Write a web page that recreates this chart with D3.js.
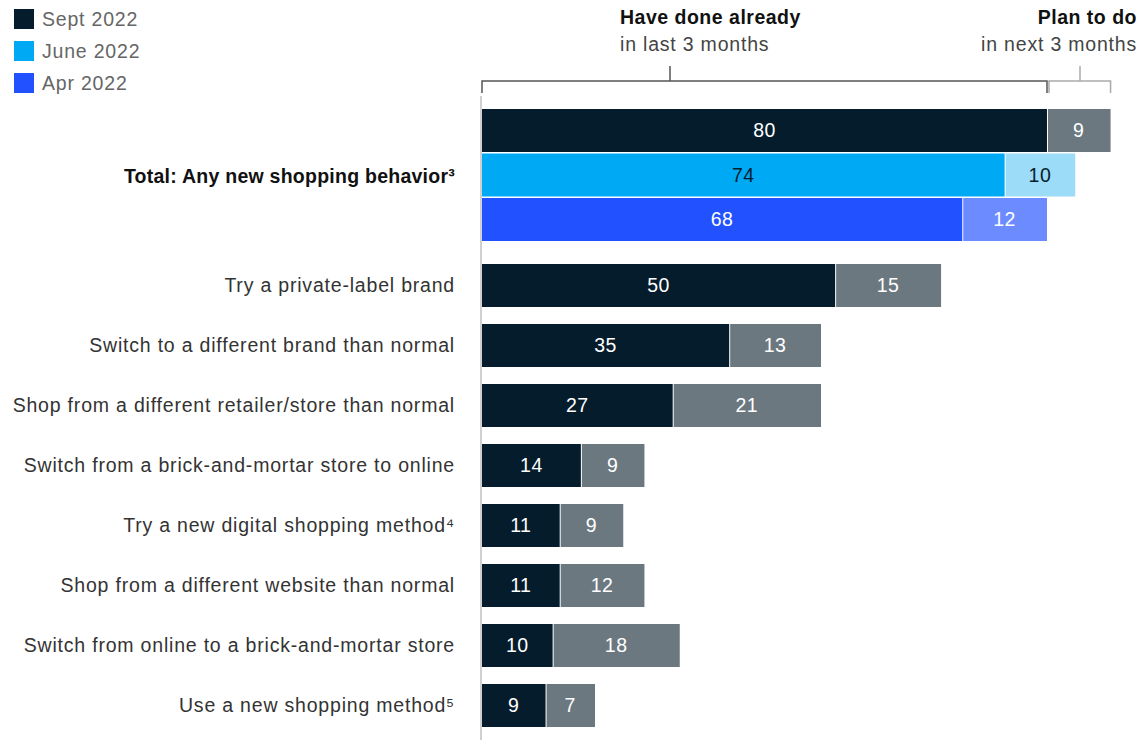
<!DOCTYPE html>
<html>
<head>
<meta charset="utf-8">
<script src="https://cdn.jsdelivr.net/npm/d3@7"></script>
<style>
  body { margin: 0; background: #fff; }
  svg { font-family: "Liberation Sans", Arial, sans-serif; }
</style>
</head>
<body>
<svg id="chart" width="1143" height="740"></svg>
<script>
// data
const seriesNames = ["Sept 2022", "June 2022", "Apr 2022"];
const totalLabel = "Total: Any new shopping behavior³";
const totalDone = [80, 74, 68];
const totalPlan = [9, 10, 12];

const behaviors = [
  "Try a private-label brand",
  "Switch to a different brand than normal",
  "Shop from a different retailer/store than normal",
  "Switch from a brick-and-mortar store to online",
  "Try a new digital shopping method⁴",
  "Shop from a different website than normal",
  "Switch from online to a brick-and-mortar store",
  "Use a new shopping method⁵"
];
const doneValues = [50, 35, 27, 14, 11, 11, 10, 9];
const planValues = [15, 13, 21, 9, 9, 12, 18, 7];

const doneColors = ["#051c2c", "#00a9f4", "#2251ff"];
const planColors = ["#6c7880", "#9ddcf8", "#6b8bff"];
const doneText = ["#fff", "#051c2c", "#fff"];
const planText = ["#fff", "#051c2c", "#fff"];

const svg = d3.select("#chart");
const x = d3.scaleLinear().domain([0, 80]).range([482, 1047]);
const barH = 43;
const fs = 19.5;

// rows: 3 total bars, then behaviors
const rows = [];
seriesNames.forEach((s, i) => rows.push({ done: totalDone[i], plan: totalPlan[i], c: i, top: 109 + i * 44.5 }));
behaviors.forEach((b, i) => rows.push({ label: b, done: doneValues[i], plan: planValues[i], c: 0, top: 264 + i * 60 }));

// baseline axis line
svg.append("line").attr("x1", 481).attr("x2", 481).attr("y1", 96).attr("y2", 740)
  .attr("stroke", "#d0d0d0").attr("stroke-width", 2);

const g = svg.append("g");
rows.forEach(r => {
  g.append("rect").attr("x", x(0)).attr("y", r.top).attr("width", x(r.done) - x(0)).attr("height", barH)
    .attr("fill", doneColors[r.c]);
  g.append("rect").attr("x", x(r.done) + 1).attr("y", r.top).attr("width", x(r.done + r.plan) - x(r.done) - 1).attr("height", barH)
    .attr("fill", planColors[r.c]);
  g.append("text").attr("x", (x(0) + x(r.done)) / 2).attr("y", r.top + barH / 2).attr("dy", "0.35em")
    .attr("text-anchor", "middle").attr("font-size", fs).attr("letter-spacing", 0.5)
    .attr("fill", doneText[r.c]).text(r.done);
  g.append("text").attr("x", (x(r.done) + x(r.done + r.plan)) / 2).attr("y", r.top + barH / 2).attr("dy", "0.35em")
    .attr("text-anchor", "middle").attr("font-size", fs).attr("letter-spacing", 0.5)
    .attr("fill", planText[r.c]).text(r.plan);
  if (r.label) {
    g.append("text").attr("x", 455).attr("y", r.top + barH / 2).attr("dy", "0.35em")
      .attr("text-anchor", "end").attr("font-size", fs).attr("letter-spacing", 0.8)
      .attr("fill", "#333").text(r.label);
  }
});

svg.append("text").attr("x", 455).attr("y", 176).attr("dy", "0.35em").attr("text-anchor", "end")
  .attr("font-size", fs).attr("font-weight", "bold").attr("letter-spacing", 0.25)
  .attr("fill", "#111").text(totalLabel);

// legend
seriesNames.forEach((s, i) => {
  svg.append("rect").attr("x", 14).attr("y", 9 + i * 32).attr("width", 20).attr("height", 20).attr("fill", doneColors[i]);
  svg.append("text").attr("x", 42).attr("y", 19 + i * 32).attr("dy", "0.35em").attr("font-size", fs)
    .attr("letter-spacing", 0.8).attr("fill", "#666").text(s);
});

// brackets
const bracket = (x1, x2, xt, color) => {
  svg.append("path")
    .attr("d", `M${x1},93V81H${x2}V93M${xt},81V66`)
    .attr("fill", "none").attr("stroke", color).attr("stroke-width", 1.5);
};
bracket(x(0), x(80), 670, "#555");
bracket(x(80) + 2, x(89), 1080, "#aaa");

svg.append("text").attr("x", 620).attr("y", 24).attr("font-size", fs).attr("font-weight", "bold")
  .attr("letter-spacing", 0.5).attr("fill", "#111").text("Have done already");
svg.append("text").attr("x", 620).attr("y", 51).attr("font-size", fs).attr("letter-spacing", 0.8)
  .attr("fill", "#444").text("in last 3 months");
svg.append("text").attr("x", 1137).attr("y", 24).attr("text-anchor", "end").attr("font-size", fs)
  .attr("font-weight", "bold").attr("letter-spacing", 0.5).attr("fill", "#111").text("Plan to do");
svg.append("text").attr("x", 1137).attr("y", 51).attr("text-anchor", "end").attr("font-size", fs)
  .attr("letter-spacing", 0.8).attr("fill", "#444").text("in next 3 months");
</script>
</body>
</html>
